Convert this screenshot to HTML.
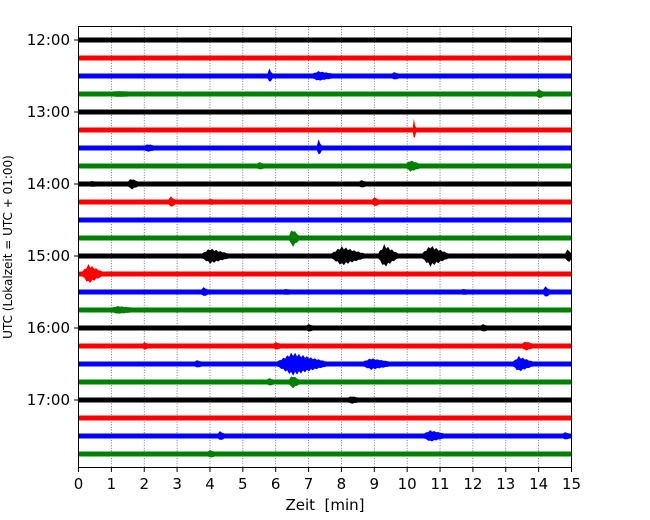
<!DOCTYPE html>
<html><head><meta charset="utf-8"><style>
body{margin:0;background:#fff;}
svg{display:block;font-family:"DejaVu Sans","Liberation Sans",sans-serif;}
</style></head><body>
<svg id="chart" width="650" height="520" viewBox="0 0 650 520" xmlns="http://www.w3.org/2000/svg">
<g id="grid"></g>
<g id="traces"></g>
<rect x="78.5" y="26.5" width="493" height="441" fill="none" stroke="#000" stroke-width="1"/>
<g id="axes"></g>
<text x="325" y="510" font-size="15" text-anchor="middle" xml:space="preserve">Zeit  [min]</text>
<text transform="translate(12,247) rotate(-90)" font-size="12" text-anchor="middle">UTC (Lokalzeit = UTC + 01:00)</text>
</svg>
<script>
const xTicks = [0,1,2,3,4,5,6,7,8,9,10,11,12,13,14,15];
const hourLabels = ["12:00","13:00","14:00","15:00","16:00","17:00"];
const traceColors = ["#000000","#ff0000","#0000ff","#008000"];
const traceCount = 24;
// events: trace index, time (min), half amplitude (px), duration (min)
const eventTrace = [2,2,2,3,3,5,6,6,7,7,8,8,8,9,9,9,11,12,12,12,12,12,13,14,14,14,14,15,16,16,17,17,17,18,18,18,18,19,19,20,22,22,22,23];
const eventTime  = [5.8,7.3,9.6,14.0,1.2,10.2,7.3,2.1,10.1,5.5,1.6,8.6,0.4,2.8,9.0,4.0,6.5,4.0,8.0,9.3,10.7,14.9,0.3,3.8,14.2,6.3,11.7,1.2,7.0,12.3,13.6,2.0,6.0,6.5,8.9,13.4,3.6,6.5,5.8,8.3,10.7,4.3,14.8,4.0];
const eventAmp   = [8,5,4,5,3,12,9,4,6,4,6,4,3,6,5,3,10,8,10,12,11,8,10,5,6,3,3,4,4,4,5,4,4,12,6,8,4,7,4,4,6,5,4,4];
const eventDur   = [0.15,0.6,0.2,0.2,0.5,0.1,0.15,0.3,0.4,0.2,0.3,0.2,0.2,0.2,0.2,0.2,0.3,0.8,1.0,0.6,0.8,0.3,0.6,0.2,0.2,0.2,0.2,0.6,0.2,0.2,0.3,0.15,0.2,1.5,0.8,0.6,0.2,0.3,0.2,0.3,0.6,0.2,0.2,0.2];

const NS="http://www.w3.org/2000/svg";
const X0=78.5,X1=571.5,Y0=40,DY=18;
const xs=t=>X0+(t-xTicks[0])/(xTicks[xTicks.length-1]-xTicks[0])*(X1-X0);
const ys=i=>Y0+i*DY;
function mk(tag,attrs,parent){const e=document.createElementNS(NS,tag);for(const k in attrs)e.setAttribute(k,attrs[k]);parent.appendChild(e);return e;}
const grid=document.getElementById('grid'),tr=document.getElementById('traces'),ax=document.getElementById('axes');
xTicks.forEach(t=>{
  if(t>0&&t<15){const l=mk('line',{x1:xs(t),x2:xs(t),y1:26.5,y2:467.5,stroke:'#555','stroke-width':0.8,'stroke-dasharray':'1,1.6'},grid);
  
  }
  const tk=mk('line',{x1:xs(t),x2:xs(t),y1:467.5,y2:472,stroke:'#000'},ax);
  
  
  const tx=mk('text',{x:xs(t),y:489,'font-size':15,'text-anchor':'middle'},ax);tx.textContent=t;
  
  
});
hourLabels.forEach((h,k)=>{
  const y=ys(k*4);
  const tk=mk('line',{x1:74,x2:78.5,y1:y,y2:y,stroke:'#000'},ax);
  
  
  const tx=mk('text',{x:70,y:y+5,'font-size':15,'text-anchor':'end'},ax);tx.textContent=h;
  
  
});
for(let i=0;i<traceCount;i++){
  const c=traceColors[i%4];
  const r=mk('rect',{x:X0,y:ys(i)-2.5,width:X1-X0,height:5,fill:c},tr);
  
  
}
eventTrace.forEach((ti,k)=>{
  const c=traceColors[ti%4],y=ys(ti),t0=eventTime[k],a=eventAmp[k],d=eventDur[k];
  const xa=Math.max(X0,xs(t0-d*0.3)),xb=Math.min(X1,xs(t0+d*0.7));
  const xp=Math.min(X1,Math.max(X0,xs(t0)));
  let pts=[];
  const n=Math.max(3,Math.round((xb-xa)/2));
  for(let j=0;j<=n;j++){const x=xa+(xb-xa)*j/n;const env=x<xp?(x-xa)/Math.max(1,xp-xa):1-(x-xp)/Math.max(1,xb-xp);
    const h=2.5+(a-2.5)*Math.max(0,env)*(j%2?1:0.6);pts.push(x.toFixed(1)+','+(y-h).toFixed(1));}
  for(let j=n;j>=0;j--){const x=xa+(xb-xa)*j/n;const env=x<xp?(x-xa)/Math.max(1,xp-xa):1-(x-xp)/Math.max(1,xb-xp);
    const h=2.5+(a-2.5)*Math.max(0,env)*(j%2?0.6:1);pts.push(x.toFixed(1)+','+(y+h).toFixed(1));}
  const p=mk('polygon',{points:pts.join(' '),fill:c},tr);
  
  
});
</script>
</body></html>
